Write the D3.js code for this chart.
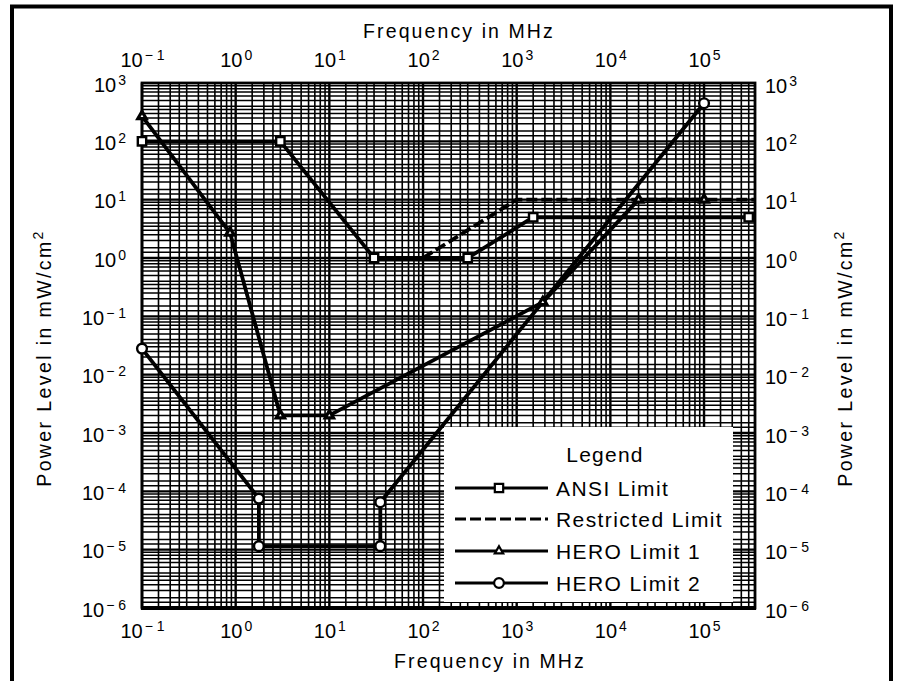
<!DOCTYPE html>
<html><head><meta charset="utf-8">
<script src="https://cdn.jsdelivr.net/npm/d3@7"></script>
<style>body{margin:0;background:#fff}svg{display:block}</style>
</head><body><svg id="c" width="897" height="689"></svg>
<script>
// ---- data ----
const ansiFreq = [0.1, 3, 30, 300, 1500, 3e5];
const ansiPower = [100, 100, 1, 1, 5, 5];
const restrictedFreq = [100, 1000, 3.5e5];
const restrictedPower = [1, 10, 10];
const hero1Freq = [0.1, 0.87, 3, 10, 1900, 2e4, 1e5];
const hero1Power = [270, 2.7, 2e-3, 2e-3, 0.175, 10, 10];
const hero2Freq = [0.1, 1.77, 1.77, 35, 35, 1e5];
const hero2Power = [0.028, 7.5e-5, 1.15e-5, 1.15e-5, 6.5e-5, 450];
const xTickValues = [0.1, 1, 10, 100, 1e3, 1e4, 1e5];
const xTickExp = ["\u2212 1", "0", "1", "2", "3", "4", "5"];
const yTickValues = [1e-6, 1e-5, 1e-4, 1e-3, 1e-2, 1e-1, 1, 10, 100, 1000];
const yTickExp = ["\u2212 6", "\u2212 5", "\u2212 4", "\u2212 3", "\u2212 2", "\u2212 1", "0", "1", "2", "3"];
const legendLabels = ["ANSI Limit", "Restricted Limit", "HERO Limit 1", "HERO Limit 2"];
const axisTitleX = "Frequency in MHz";
const axisTitleY = "Power Level in mW/cm";

const svg = d3.select("#c");
const FONT = "'Liberation Sans', Arial, Helvetica, sans-serif";
svg.append("rect").attr("width", 897).attr("height", 689).attr("fill", "#fff");

const L = 142, R = 755, T = 83, B = 608;
const x = d3.scaleLog().domain([0.1, 3.5e5]).range([L, R]);
const y = d3.scaleLog().domain([1e-6, 1e3]).range([B, T]);

// outer frame
svg.append("path").attr("d", "M12,681V6.5H891V681").attr("fill", "none")
  .attr("stroke", "#000").attr("stroke-width", 4);

// grid
const g = svg.append("g");
const xs = [], ys = [];
for (let n = -1; n <= 5; n++) for (const k of [1, 1.5, 2, 2.5, 3, 4, 5, 6, 7, 8, 9]) {
  const v = k * Math.pow(10, n); if (v <= 3.5e5) xs.push({v, major: k === 1});
}
for (let n = -6; n <= 2; n++) for (const k of [1, 1.25, 1.5, 2, 2.5, 3, 3.5, 4, 5, 6, 7, 8, 9]) {
  ys.push({v: k * Math.pow(10, n), major: k === 1});
}
g.selectAll("line.vx").data(xs).join("line").attr("class", "vx")
  .attr("x1", d => x(d.v)).attr("x2", d => x(d.v)).attr("y1", T).attr("y2", B)
  .attr("stroke", "#000").attr("stroke-width", d => d.major ? 2.4 : 1.6);
g.selectAll("line.hy").data(ys).join("line").attr("class", "hy")
  .attr("y1", d => y(d.v)).attr("y2", d => y(d.v)).attr("x1", L).attr("x2", R)
  .attr("stroke", "#000").attr("stroke-width", d => d.major ? 2.4 : 1.5);

// legend box (blanks the grid)
svg.append("rect").attr("x", 444).attr("y", 427).attr("width", 289).attr("height", 175).attr("fill", "#fff");

// plot border
svg.append("rect").attr("x", L).attr("y", T).attr("width", R - L).attr("height", B - T)
  .attr("fill", "none").attr("stroke", "#000").attr("stroke-width", 2.8);
svg.append("line").attr("x1", L - 1).attr("x2", R + 1).attr("y1", B).attr("y2", B)
  .attr("stroke", "#000").attr("stroke-width", 4);

// axes with superscript labels
function supLabels(sel, exps, anchor) {
  sel.selectAll(".tick").each(function (d, i) {
    const t = d3.select(this).append("text").attr("fill", "#000")
      .attr("font-family", FONT).attr("text-anchor", anchor);
    t.append("tspan").attr("font-size", 20).text("10");
    t.append("tspan").attr("font-size", 14).attr("dx", 2).attr("dy", -7).text(exps[i]);
  });
}
const axB = svg.append("g").attr("transform", `translate(0,${B})`)
  .call(d3.axisBottom(x).tickValues(xTickValues).tickSize(0).tickFormat(() => ""));
const axT = svg.append("g").attr("transform", `translate(0,${T})`)
  .call(d3.axisTop(x).tickValues(xTickValues).tickSize(0).tickFormat(() => ""));
const axL = svg.append("g").attr("transform", `translate(${L},0)`)
  .call(d3.axisLeft(y).tickValues(yTickValues).tickSize(0).tickFormat(() => ""));
const axR = svg.append("g").attr("transform", `translate(${R},0)`)
  .call(d3.axisRight(y).tickValues(yTickValues).tickSize(0).tickFormat(() => ""));
[axB, axT, axL, axR].forEach(a => a.select(".domain").remove());
supLabels(axB, xTickExp, "middle"); axB.selectAll("text").attr("y", 30);
supLabels(axT, xTickExp, "middle"); axT.selectAll("text").attr("y", -16);
supLabels(axL, yTickExp, "end"); axL.selectAll("text").attr("x", -16).attr("y", 8);
supLabels(axR, yTickExp, "start"); axR.selectAll("text").attr("x", 10).attr("y", 9);

// axis titles
svg.append("text").attr("x", 459).attr("y", 38).attr("text-anchor", "middle")
  .attr("font-family", FONT).attr("font-size", 19.5).attr("letter-spacing", 2.1).text(axisTitleX);
svg.append("text").attr("x", 490).attr("y", 668).attr("text-anchor", "middle")
  .attr("font-family", FONT).attr("font-size", 19.5).attr("letter-spacing", 2.1).text(axisTitleX);
function yTitle(cx) {
  const t = svg.append("text").attr("transform", `translate(${cx},358) rotate(-90)`)
    .attr("text-anchor", "middle").attr("font-family", FONT).attr("font-size", 19.5)
    .attr("letter-spacing", 2.4);
  t.append("tspan").text(axisTitleY);
  t.append("tspan").attr("font-size", 14).attr("dy", -8).text("2");
}
yTitle(51); yTitle(852);

// series
const line = d3.line().x(d => x(d[0])).y(d => y(d[1]));
const zip = (a, b) => a.map((v, i) => [v, b[i]]);
const ansi = zip(ansiFreq, ansiPower), restr = zip(restrictedFreq, restrictedPower);
const h1 = zip(hero1Freq, hero1Power), h2 = zip(hero2Freq, hero2Power);
const S = {stroke: "#000", fill: "none", "stroke-width": 3.8, "stroke-linejoin": "round"};
function drawLine(data, dash) {
  const p = svg.append("path").datum(data).attr("d", line);
  Object.entries(S).forEach(([k, v]) => p.attr(k, v));
  if (dash) p.attr("stroke-dasharray", dash);
}
drawLine(restr, "11,4");
drawLine(ansi); drawLine(h1); drawLine(h2);

const sq = d3.symbol().type(d3.symbolSquare).size(70);
const ci = d3.symbol().type(d3.symbolCircle).size(75);
const tr = d3.symbol().type(d3.symbolTriangle).size(30);
function markers(data, sym, sw) {
  svg.append("g").selectAll("path").data(data).join("path")
    .attr("transform", d => `translate(${x(d[0])},${y(d[1])})`).attr("d", sym)
    .attr("fill", "#fff").attr("stroke", "#000").attr("stroke-width", sw);
}
markers(ansi, sq, 2.4); markers(h2, ci, 2.4); markers(h1, tr, 3.2);

// legend
svg.append("text").attr("x", 605).attr("y", 462).attr("text-anchor", "middle")
  .attr("font-family", FONT).attr("font-size", 21).attr("letter-spacing", 1.2).text("Legend");
const legY = [488, 519, 551, 583];
const legSym = [sq, null, tr, ci];
legendLabels.forEach((lab, i) => {
  const ly = legY[i];
  const p = svg.append("line").attr("x1", 455).attr("x2", 548).attr("y1", ly).attr("y2", ly)
    .attr("stroke", "#000").attr("stroke-width", 3.2);
  if (i === 1) p.attr("stroke-dasharray", "11,4");
  if (legSym[i]) svg.append("path").attr("transform", `translate(499,${ly})`).attr("d", legSym[i])
    .attr("fill", "#fff").attr("stroke", "#000").attr("stroke-width", 2.2);
  svg.append("text").attr("x", 556).attr("y", ly + 8).attr("font-family", FONT)
    .attr("font-size", 21).attr("letter-spacing", 1.4).text(lab);
});
</script></body></html>
